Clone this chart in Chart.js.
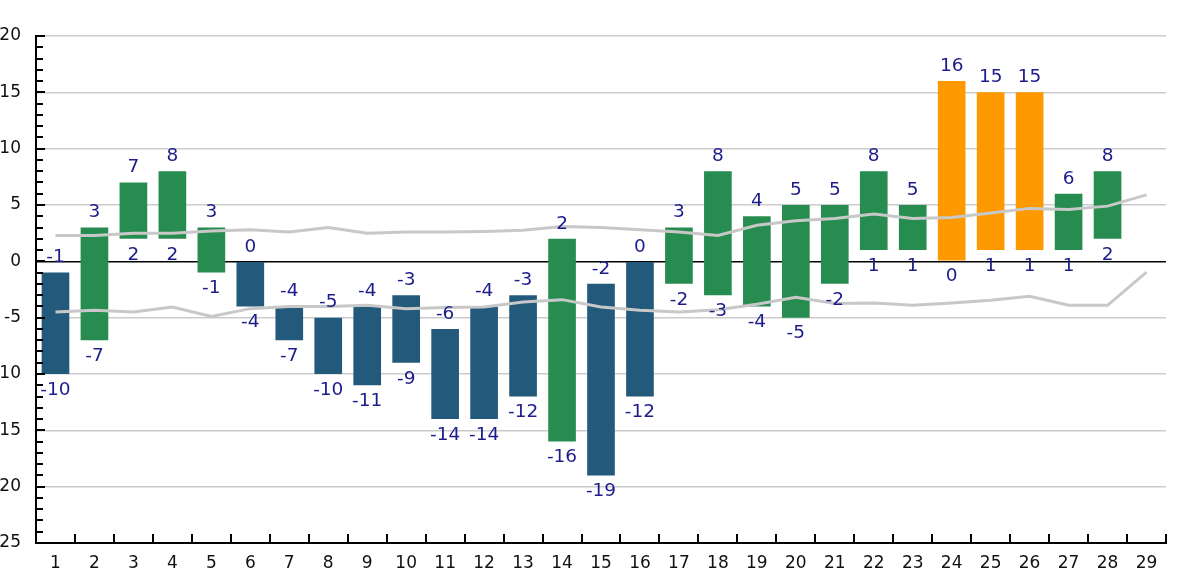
<!DOCTYPE html>
<html>
<head>
<meta charset="utf-8">
<script src="https://cdn.jsdelivr.net/npm/chart.js@4/dist/chart.umd.min.js"></script>
<style>
  html, body { margin: 0; padding: 0; background: #fff; }
  #wrap { position: relative; width: 1200px; height: 578px; }
</style>
</head>
<body>
<div id="wrap"><canvas id="myChart"></canvas></div>
<script>
"use strict";

const categories = ["1", "2", "3", "4", "5", "6", "7", "8", "9", "10", "11", "12", "13", "14", "15",
  "16", "17", "18", "19", "20", "21", "22", "23", "24", "25", "26", "27", "28", "29"];

// bottom and top of each floating bar (29 has no bar)
const lows = [-10, -7, 2, 2, -1, -4, -7, -10, -11, -9, -14, -14, -12, -16, -19,
  -12, -2, -3, -4, -5, -2, 1, 1, 0, 1, 1, 1, 2, null];
const highs = [-1, 3, 7, 8, 3, 0, -4, -5, -4, -3, -6, -4, -3, 2, -2,
  0, 3, 8, 4, 5, 5, 8, 5, 16, 15, 15, 6, 8, null];

// grey band lines
const upperBand = [2.3, 2.3, 2.5, 2.5, 2.7, 2.8, 2.6, 3.0, 2.5, 2.6, 2.6, 2.65, 2.75, 3.1, 3.0,
  2.8, 2.6, 2.3, 3.2, 3.6, 3.8, 4.2, 3.8, 3.9, 4.3, 4.7, 4.6, 4.9, 5.9];
const lowerBand = [-4.5, -4.35, -4.5, -4.05, -4.9, -4.2, -4.0, -4.0, -3.9, -4.2, -4.1, -4.05, -3.6, -3.4, -4.05,
  -4.35, -4.5, -4.3, -3.8, -3.2, -3.75, -3.7, -3.9, -3.7, -3.45, -3.1, -3.9, -3.9, -0.95];

const yMin = -25;
const yMax = 20;
const yStep = 5;

function barColor(i) {
  if (highs[i] <= 0) return "#235a7b";
  if (highs[i] >= 15) return "#ff9900";
  return "#268c50";
}

const ranges = lows.map((lo, i) => (lo === null ? null : [lo, highs[i]]));

const tickMarks = {
  id: "tickMarks",
  afterDraw(chart) {
    const { ctx, scales: { x, y } } = chart;
    ctx.save();
    ctx.strokeStyle = "#000";
    ctx.lineWidth = 2;
    ctx.beginPath();
    for (let v = yMin; v <= yMax; v++) {
      const py = Math.round(y.getPixelForValue(v));
      const len = v % yStep === 0 ? 9 : 7;
      ctx.moveTo(x.left, py);
      ctx.lineTo(x.left + len, py);
    }
    for (let i = 0; i <= categories.length; i++) {
      const px = Math.round(x.getPixelForValue(i - 0.5));
      ctx.moveTo(px, y.bottom);
      ctx.lineTo(px, y.bottom - 9);
    }
    ctx.stroke();
    ctx.restore();
  },
};

const barLabels = {
  id: "barLabels",
  afterDatasetsDraw(chart) {
    const ctx = chart.ctx;
    const meta = chart.getDatasetMeta(2);
    ctx.save();
    ctx.font = '18.5px "DejaVu Sans"';
    ctx.fillStyle = "#1c1c8a";
    ctx.textAlign = "center";
    ctx.textBaseline = "middle";
    meta.data.forEach((bar, i) => {
      if (lows[i] === null) return;
      const top = Math.min(bar.y, bar.base);
      const bottom = Math.max(bar.y, bar.base);
      ctx.fillText(String(highs[i]), bar.x, top - 15);
      ctx.fillText(String(lows[i]), bar.x, bottom + 16);
    });
    ctx.restore();
  },
};

const data = {
  labels: categories,
  datasets: [
    {
      type: "line",
      data: upperBand,
      borderColor: "#c8c8c8",
      borderWidth: 3,
      pointRadius: 0,
      tension: 0,
    },
    {
      type: "line",
      data: lowerBand,
      borderColor: "#c8c8c8",
      borderWidth: 3,
      pointRadius: 0,
      tension: 0,
    },
    {
      type: "bar",
      data: ranges,
      backgroundColor: categories.map((c, i) => barColor(i)),
      barPercentage: 0.71,
      categoryPercentage: 1,
      borderSkipped: false,
    },
  ],
};

const config = {
  type: "bar",
  data: data,
  plugins: [barLabels, tickMarks],
  options: {
    responsive: true,
    maintainAspectRatio: false,
    animation: false,
    layout: { padding: { top: 36, right: 34, left: 0, bottom: 0 } },
    plugins: {
      legend: { display: false },
      tooltip: { enabled: false },
    },
    scales: {
      x: {
        offset: true,
        grid: { display: false, offset: true },
        border: { color: "#000", width: 2 },
        ticks: {
          color: "#111",
          font: { family: "DejaVu Sans", size: 17 },
          padding: 2,
          maxRotation: 0,
          autoSkip: false,
        },
        afterFit(scale) {
          scale.height = 35;
        },
      },
      y: {
        min: yMin,
        max: yMax,
        grid: {
          drawTicks: false,
          color: (c) => (c.tick && c.tick.value === 0 ? "#000" : "#cccccc"),
          lineWidth: 1.5,
        },
        border: { color: "#000", width: 2 },
        ticks: {
          stepSize: yStep,
          color: "#111",
          font: { family: "DejaVu Sans", size: 17 },
          padding: 15,
        },
        afterFit(scale) {
          scale.width = 36;
        },
      },
    },
  },
};

new Chart(document.getElementById("myChart"), config);
</script>
</body>
</html>
